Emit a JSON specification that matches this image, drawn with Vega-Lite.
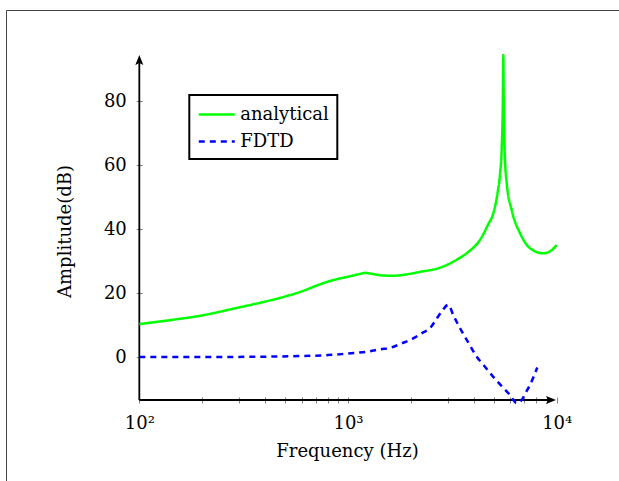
{
  "$schema": "https://vega.github.io/schema/vega-lite/v6.json",
  "width": 613,
  "height": 471,
  "autosize": {"type": "none"},
  "padding": {"left": 6, "top": 10, "right": 0, "bottom": 0},
  "background": "white",
  "data": {"values": [{}]},
  "config": {
    "font": "DejaVu Serif",
    "view": {"stroke": "#444444", "strokeWidth": 1, "fill": "white"},
    "legend": {"strokeWidth": 2}
  },
  "datasets": {
    "curves": [
      {"f": 100, "a": 10.3, "series": "analytical"},
      {"f": 140, "a": 11.5, "series": "analytical"},
      {"f": 200, "a": 13.0, "series": "analytical"},
      {"f": 287, "a": 15.2, "series": "analytical"},
      {"f": 400, "a": 17.3, "series": "analytical"},
      {"f": 499, "a": 18.9, "series": "analytical"},
      {"f": 600, "a": 20.5, "series": "analytical"},
      {"f": 700, "a": 22.2, "series": "analytical"},
      {"f": 805, "a": 23.6, "series": "analytical"},
      {"f": 1000, "a": 25.1, "series": "analytical"},
      {"f": 1150, "a": 26.0, "series": "analytical"},
      {"f": 1206, "a": 26.3, "series": "analytical"},
      {"f": 1300, "a": 26.0, "series": "analytical"},
      {"f": 1450, "a": 25.5, "series": "analytical"},
      {"f": 1643, "a": 25.4, "series": "analytical"},
      {"f": 1900, "a": 25.8, "series": "analytical"},
      {"f": 2213, "a": 26.6, "series": "analytical"},
      {"f": 2759, "a": 27.9, "series": "analytical"},
      {"f": 3318, "a": 30.4, "series": "analytical"},
      {"f": 3800, "a": 33.0, "series": "analytical"},
      {"f": 4291, "a": 36.6, "series": "analytical"},
      {"f": 4700, "a": 41.5, "series": "analytical"},
      {"f": 4969, "a": 44.9, "series": "analytical"},
      {"f": 5200, "a": 51.0, "series": "analytical"},
      {"f": 5356, "a": 57.5, "series": "analytical"},
      {"f": 5450, "a": 65.0, "series": "analytical"},
      {"f": 5520, "a": 80.0, "series": "analytical"},
      {"f": 5548, "a": 94.4, "series": "analytical"},
      {"f": 5575, "a": 80.0, "series": "analytical"},
      {"f": 5650, "a": 62.0, "series": "analytical"},
      {"f": 5760, "a": 54.4, "series": "analytical"},
      {"f": 6086, "a": 45.9, "series": "analytical"},
      {"f": 6671, "a": 38.7, "series": "analytical"},
      {"f": 7447, "a": 34.0, "series": "analytical"},
      {"f": 8627, "a": 32.4, "series": "analytical"},
      {"f": 9464, "a": 33.4, "series": "analytical"},
      {"f": 10000, "a": 35.0, "series": "analytical"},
      {"f": 100, "a": 0.0, "series": "FDTD"},
      {"f": 200, "a": 0.0, "series": "FDTD"},
      {"f": 400, "a": 0.1, "series": "FDTD"},
      {"f": 600, "a": 0.3, "series": "FDTD"},
      {"f": 800, "a": 0.6, "series": "FDTD"},
      {"f": 933, "a": 0.9, "series": "FDTD"},
      {"f": 1100, "a": 1.3, "series": "FDTD"},
      {"f": 1251, "a": 1.7, "series": "FDTD"},
      {"f": 1423, "a": 2.4, "series": "FDTD"},
      {"f": 1619, "a": 3.0, "series": "FDTD"},
      {"f": 1800, "a": 4.2, "series": "FDTD"},
      {"f": 2055, "a": 5.8, "series": "FDTD"},
      {"f": 2250, "a": 7.4, "series": "FDTD"},
      {"f": 2471, "a": 9.0, "series": "FDTD"},
      {"f": 2650, "a": 11.8, "series": "FDTD"},
      {"f": 2811, "a": 14.2, "series": "FDTD"},
      {"f": 3023, "a": 16.3, "series": "FDTD"},
      {"f": 3200, "a": 13.0, "series": "FDTD"},
      {"f": 3441, "a": 9.0, "series": "FDTD"},
      {"f": 3750, "a": 4.8, "series": "FDTD"},
      {"f": 4138, "a": 0.1, "series": "FDTD"},
      {"f": 4500, "a": -2.8, "series": "FDTD"},
      {"f": 4969, "a": -6.2, "series": "FDTD"},
      {"f": 5450, "a": -9.1, "series": "FDTD"},
      {"f": 5975, "a": -11.9, "series": "FDTD"},
      {"f": 6432, "a": -14.4, "series": "FDTD"},
      {"f": 6798, "a": -13.4, "series": "FDTD"},
      {"f": 7100, "a": -11.2, "series": "FDTD"},
      {"f": 7447, "a": -8.75, "series": "FDTD"},
      {"f": 8072, "a": -3.3, "series": "FDTD"}
    ]
  },
  "layer": [
    {
      "mark": {"type": "rule", "color": "black", "strokeWidth": 1.8},
      "encoding": {
        "x": {"datum": 100, "type": "quantitative"},
        "y": {"datum": -13.44, "type": "quantitative"},
        "y2": {"datum": 92}
      }
    },
    {
      "mark": {"type": "rule", "color": "black", "strokeWidth": 1.8},
      "encoding": {
        "x": {"datum": 100, "type": "quantitative"},
        "x2": {"datum": 9300},
        "y": {"datum": -13.44, "type": "quantitative"}
      }
    },
    {
      "mark": {"type": "point", "filled": true, "color": "black", "opacity": 1, "size": 100, "shape": "M0,-1L0.8,1L0,0.6L-0.8,1Z"},
      "encoding": {
        "x": {"datum": 100, "type": "quantitative"},
        "y": {"datum": 92.8, "type": "quantitative"}
      }
    },
    {
      "mark": {"type": "point", "filled": true, "color": "black", "opacity": 1, "size": 100, "shape": "M1,0L-1,0.8L-0.6,0L-1,-0.8Z"},
      "encoding": {
        "x": {"datum": 9391, "type": "quantitative"},
        "y": {"datum": -13.44, "type": "quantitative"}
      }
    },
    {
      "data": {"name": "curves"},
      "mark": {"type": "line", "strokeWidth": 2.5, "interpolate": "monotone"},
      "encoding": {
        "x": {
          "field": "f",
          "type": "quantitative",
          "scale": {"type": "log", "domain": [22.97, 19887], "nice": false},
          "axis": {
            "orient": "bottom",
            "offset": -84,
            "domain": false,
            "grid": false,
            "values": [100, 200, 300, 400, 500, 600, 700, 800, 900, 1000, 2000, 3000, 4000, 5000, 6000, 7000, 8000, 9000, 10000],
            "labelExpr": "datum.value == 100 ? '10²' : datum.value == 1000 ? '10³' : datum.value == 10000 ? '10⁴' : ''",
            "labelOverlap": false,
            "labelFlush": false,
            "labelFontSize": 18,
            "labelColor": "black",
            "labelPadding": 11,
            "tickSize": 6,
            "tickColor": "#666666",
            "tickWidth": 0.8,
            "title": "Frequency (Hz)",
            "titleFontSize": 18,
            "titleFontWeight": "normal",
            "titleColor": "black",
            "titleX": 341,
            "titleY": 54,
            "titleBaseline": "middle",
            "titleAlign": "center"
          }
        },
        "y": {
          "field": "a",
          "type": "quantitative",
          "scale": {"domain": [-38.75, 108.44], "nice": false, "zero": false},
          "axis": {
            "orient": "left",
            "offset": -136.3,
            "domain": false,
            "grid": false,
            "values": [0, 20, 40, 60, 80],
            "labelFontSize": 18,
            "labelColor": "black",
            "labelPadding": 10,
            "tickSize": 6,
            "tickColor": "#666666",
            "tickWidth": 0.8,
            "title": "Amplitude(dB)",
            "titleFontSize": 18,
            "titleFontWeight": "normal",
            "titleColor": "black",
            "titleX": -77.3,
            "titleY": 221,
            "titleBaseline": "middle",
            "titleAlign": "center"
          }
        },
        "color": {
          "field": "series",
          "type": "nominal",
          "scale": {"domain": ["analytical", "FDTD"], "range": ["#00ff00", "#0000ff"]},
          "legend": {
            "title": null,
            "orient": "none",
            "legendX": 183.3,
            "legendY": 85,
            "fillColor": "white",
            "strokeColor": "black",
            "padding": 8,
            "rowPadding": 6,
            "symbolType": "M-1.8,0L1.8,0",
            "symbolSize": 400,
            "symbolOffset": 8,
            "symbolStrokeWidth": 2.5,
            "labelFontSize": 18,
            "labelColor": "black",
            "labelOffset": 12
          }
        },
        "strokeDash": {
          "field": "series",
          "type": "nominal",
          "scale": {"domain": ["analytical", "FDTD"], "range": [[1, 0], [6, 5]]},
          "legend": {
            "title": null,
            "orient": "none",
            "legendX": 183.3,
            "legendY": 85
          }
        }
      }
    }
  ]
}
